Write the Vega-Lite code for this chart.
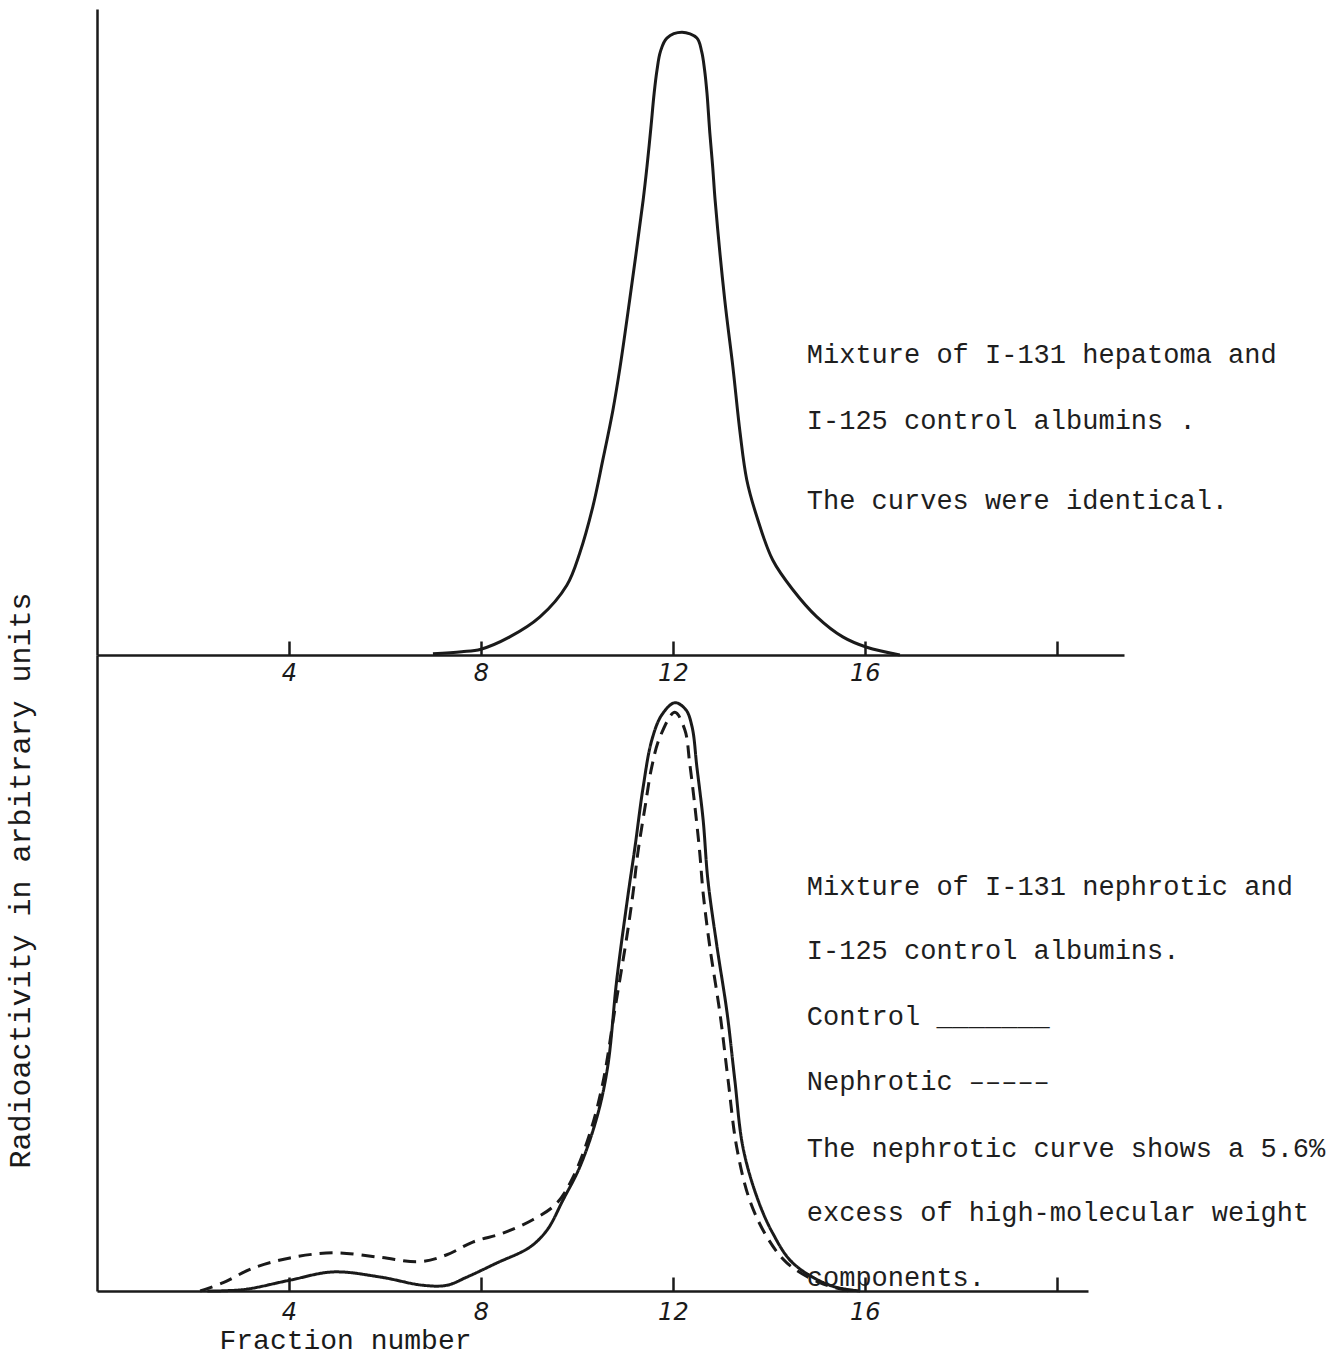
{
  "$schema": "https://vega.github.io/schema/vega-lite/v6.json",
  "background": "white",
  "padding": {"left": 4, "top": 9, "right": 5, "bottom": 2},
  "spacing": 0,
  "bounds": "flush",
  "config": {
    "view": {"stroke": null},
    "font": "Liberation Mono",
    "axis": {"domainColor": "#1a1a1a", "domainWidth": 2.5, "tickColor": "#1a1a1a", "tickWidth": 2.5, "grid": false, "labelColor": "#1a1a1a", "titleColor": "#1a1a1a"}
  },
  "datasets": {
    "top": [
      {"fraction": 7.0, "activity": 0.2}, {"fraction": 7.6, "activity": 0.5}, {"fraction": 8.0, "activity": 0.9},
      {"fraction": 8.6, "activity": 2.8}, {"fraction": 9.23, "activity": 5.9}, {"fraction": 9.79, "activity": 10.8},
      {"fraction": 10.06, "activity": 15.8}, {"fraction": 10.33, "activity": 22.9}, {"fraction": 10.54, "activity": 30.2},
      {"fraction": 10.75, "activity": 37.9}, {"fraction": 10.9, "activity": 44.6}, {"fraction": 11.1, "activity": 55.0},
      {"fraction": 11.38, "activity": 70.4}, {"fraction": 11.46, "activity": 75.6}, {"fraction": 11.54, "activity": 81.5},
      {"fraction": 11.61, "activity": 87.0}, {"fraction": 11.67, "activity": 90.6}, {"fraction": 11.74, "activity": 93.4},
      {"fraction": 11.875, "activity": 95.5}, {"fraction": 12.19, "activity": 96.4}, {"fraction": 12.5, "activity": 95.5},
      {"fraction": 12.6, "activity": 93.4}, {"fraction": 12.66, "activity": 90.6}, {"fraction": 12.71, "activity": 87.0},
      {"fraction": 12.77, "activity": 80.8}, {"fraction": 12.83, "activity": 75.5}, {"fraction": 12.88, "activity": 70.4},
      {"fraction": 13.08, "activity": 55.0}, {"fraction": 13.25, "activity": 44.6}, {"fraction": 13.4, "activity": 34.4},
      {"fraction": 13.54, "activity": 27.1}, {"fraction": 13.75, "activity": 21.4}, {"fraction": 14.08, "activity": 14.7},
      {"fraction": 14.5, "activity": 10.1}, {"fraction": 15.0, "activity": 5.9}, {"fraction": 15.54, "activity": 2.8},
      {"fraction": 16.04, "activity": 1.2}, {"fraction": 16.73, "activity": 0.0}
    ],
    "bottom": [
      {"series": "Control", "fraction": 2.3, "activity": 0.0}, {"series": "Control", "fraction": 2.71, "activity": 0.05},
      {"series": "Control", "fraction": 3.13, "activity": 0.3}, {"series": "Control", "fraction": 4.02, "activity": 1.7},
      {"series": "Control", "fraction": 4.92, "activity": 3.0}, {"series": "Control", "fraction": 5.9, "activity": 2.2},
      {"series": "Control", "fraction": 6.79, "activity": 0.9}, {"series": "Control", "fraction": 7.29, "activity": 0.9},
      {"series": "Control", "fraction": 7.71, "activity": 2.2}, {"series": "Control", "fraction": 8.33, "activity": 4.4},
      {"series": "Control", "fraction": 9.02, "activity": 6.9}, {"series": "Control", "fraction": 9.38, "activity": 9.6},
      {"series": "Control", "fraction": 9.71, "activity": 14.3}, {"series": "Control", "fraction": 10.06, "activity": 19.5},
      {"series": "Control", "fraction": 10.42, "activity": 27.4}, {"series": "Control", "fraction": 10.64, "activity": 35.2},
      {"series": "Control", "fraction": 10.83, "activity": 48.9}, {"series": "Control", "fraction": 11.06, "activity": 62.0},
      {"series": "Control", "fraction": 11.21, "activity": 69.8}, {"series": "Control", "fraction": 11.38, "activity": 79.2},
      {"series": "Control", "fraction": 11.56, "activity": 86.6}, {"series": "Control", "fraction": 11.77, "activity": 90.6},
      {"series": "Control", "fraction": 12.04, "activity": 92.5}, {"series": "Control", "fraction": 12.27, "activity": 91.4},
      {"series": "Control", "fraction": 12.4, "activity": 88.7}, {"series": "Control", "fraction": 12.5, "activity": 82.4},
      {"series": "Control", "fraction": 12.63, "activity": 74.1}, {"series": "Control", "fraction": 12.73, "activity": 64.6},
      {"series": "Control", "fraction": 12.92, "activity": 54.1}, {"series": "Control", "fraction": 13.13, "activity": 43.7},
      {"series": "Control", "fraction": 13.29, "activity": 33.2}, {"series": "Control", "fraction": 13.46, "activity": 22.6},
      {"series": "Control", "fraction": 13.75, "activity": 14.8}, {"series": "Control", "fraction": 14.08, "activity": 9.1},
      {"series": "Control", "fraction": 14.5, "activity": 4.4}, {"series": "Control", "fraction": 15.27, "activity": 0.9},
      {"series": "Control", "fraction": 15.9, "activity": 0.0},
      {"series": "Nephrotic", "fraction": 2.15, "activity": 0.0}, {"series": "Nephrotic", "fraction": 2.63, "activity": 1.3},
      {"series": "Nephrotic", "fraction": 3.25, "activity": 3.6}, {"series": "Nephrotic", "fraction": 4.02, "activity": 5.2},
      {"series": "Nephrotic", "fraction": 4.92, "activity": 6.0}, {"series": "Nephrotic", "fraction": 5.9, "activity": 5.3},
      {"series": "Nephrotic", "fraction": 6.73, "activity": 4.6}, {"series": "Nephrotic", "fraction": 7.29, "activity": 5.7},
      {"series": "Nephrotic", "fraction": 7.83, "activity": 7.7}, {"series": "Nephrotic", "fraction": 8.46, "activity": 9.1},
      {"series": "Nephrotic", "fraction": 9.08, "activity": 11.2}, {"series": "Nephrotic", "fraction": 9.58, "activity": 13.8},
      {"series": "Nephrotic", "fraction": 9.92, "activity": 17.9}, {"series": "Nephrotic", "fraction": 10.27, "activity": 24.8},
      {"series": "Nephrotic", "fraction": 10.54, "activity": 32.7}, {"series": "Nephrotic", "fraction": 10.79, "activity": 44.2},
      {"series": "Nephrotic", "fraction": 11.04, "activity": 55.7}, {"series": "Nephrotic", "fraction": 11.17, "activity": 62.6},
      {"series": "Nephrotic", "fraction": 11.27, "activity": 68.9}, {"series": "Nephrotic", "fraction": 11.42, "activity": 76.1},
      {"series": "Nephrotic", "fraction": 11.56, "activity": 82.4}, {"series": "Nephrotic", "fraction": 11.73, "activity": 87.1},
      {"series": "Nephrotic", "fraction": 12.04, "activity": 91.0}, {"series": "Nephrotic", "fraction": 12.25, "activity": 88.2},
      {"series": "Nephrotic", "fraction": 12.35, "activity": 83.0}, {"series": "Nephrotic", "fraction": 12.46, "activity": 76.1},
      {"series": "Nephrotic", "fraction": 12.56, "activity": 68.9}, {"series": "Nephrotic", "fraction": 12.63, "activity": 62.6},
      {"series": "Nephrotic", "fraction": 12.77, "activity": 54.1}, {"series": "Nephrotic", "fraction": 12.98, "activity": 43.7},
      {"series": "Nephrotic", "fraction": 13.15, "activity": 33.2}, {"series": "Nephrotic", "fraction": 13.33, "activity": 22.6},
      {"series": "Nephrotic", "fraction": 13.6, "activity": 14.3}, {"series": "Nephrotic", "fraction": 13.96, "activity": 8.5},
      {"series": "Nephrotic", "fraction": 14.38, "activity": 4.4}, {"series": "Nephrotic", "fraction": 15.06, "activity": 1.3},
      {"series": "Nephrotic", "fraction": 15.69, "activity": 0.0}
    ],
    "notes_top": [
      {"fraction": 14.79, "activity": 46.4, "label": "Mixture of I-131 hepatoma and"},
      {"fraction": 14.79, "activity": 36.3, "label": "I-125 control albumins ."},
      {"fraction": 14.79, "activity": 23.8, "label": "The curves were identical."}
    ],
    "notes_bottom": [
      {"fraction": 14.79, "activity": 63.6, "label": "Mixture of I-131 nephrotic and"},
      {"fraction": 14.79, "activity": 53.4, "label": "I-125 control albumins."},
      {"fraction": 14.79, "activity": 43.1, "label": "Control _______"},
      {"fraction": 14.79, "activity": 32.9, "label": "Nephrotic –––––"},
      {"fraction": 14.79, "activity": 22.4, "label": "The nephrotic curve shows a 5.6%"},
      {"fraction": 14.79, "activity": 12.3, "label": "excess of high-molecular weight"},
      {"fraction": 14.79, "activity": 2.1, "label": "components."}
    ]
  },
  "vconcat": [
    {
      "width": 1027,
      "height": 646,
      "layer": [
        {
          "data": {"name": "top"},
          "mark": {"type": "line", "interpolate": "catmull-rom", "color": "#1a1a1a", "strokeWidth": 3},
          "encoding": {
            "x": {"field": "fraction", "type": "quantitative", "scale": {"domain": [0, 21.4], "nice": false},
              "axis": {"title": null, "values": [4, 8, 12, 16, 20], "labelExpr": "datum.value == 20 ? '' : datum.label",
                "tickSize": -14, "labelPadding": 20, "labelFont": "DejaVu Sans", "labelFontStyle": "italic", "labelFontSize": 24}},
            "y": {"field": "activity", "type": "quantitative", "scale": {"domain": [0, 100], "nice": false},
              "axis": {"title": null, "ticks": false, "labels": false}}
          }
        },
        {
          "data": {"name": "notes_top"},
          "mark": {"type": "text", "align": "left", "baseline": "middle", "fontSize": 27, "font": "Liberation Mono", "color": "#1e1e1e"},
          "encoding": {
            "x": {"field": "fraction", "type": "quantitative"},
            "y": {"field": "activity", "type": "quantitative"},
            "text": {"field": "label"}
          }
        }
      ]
    },
    {
      "width": 991,
      "height": 636,
      "layer": [
        {
          "data": {"name": "bottom"},
          "mark": {"type": "line", "interpolate": "catmull-rom", "color": "#1a1a1a", "strokeWidth": 3},
          "encoding": {
            "x": {"field": "fraction", "type": "quantitative", "scale": {"domain": [0, 20.65], "nice": false},
              "axis": {"title": "Fraction number", "values": [4, 8, 12, 16, 20], "labelExpr": "datum.value == 20 ? '' : datum.label",
                "tickSize": -14, "labelPadding": 23, "labelFont": "DejaVu Sans", "labelFontStyle": "italic", "labelFontSize": 24,
                "titleFont": "Liberation Mono", "titleFontSize": 28, "titleFontWeight": "normal",
                "titleX": 248, "titleY": 49, "titleAlign": "center", "titleBaseline": "middle"}},
            "y": {"field": "activity", "type": "quantitative", "scale": {"domain": [0, 100], "nice": false},
              "axis": {"title": "Radioactivity in arbitrary units", "ticks": false, "labels": false,
                "titleFont": "Liberation Mono", "titleFontSize": 30, "titleFontWeight": "normal", "titleAngle": -90,
                "titleX": -77, "titleY": 225, "titleAlign": "center", "titleBaseline": "middle"}},
            "strokeDash": {"field": "series", "type": "nominal", "scale": {"domain": ["Control", "Nephrotic"], "range": [[1, 0], [13, 8]]}, "legend": null}
          }
        },
        {
          "data": {"name": "notes_bottom"},
          "mark": {"type": "text", "align": "left", "baseline": "middle", "fontSize": 27, "font": "Liberation Mono", "color": "#1e1e1e"},
          "encoding": {
            "x": {"field": "fraction", "type": "quantitative"},
            "y": {"field": "activity", "type": "quantitative"},
            "text": {"field": "label"}
          }
        }
      ]
    }
  ]
}
